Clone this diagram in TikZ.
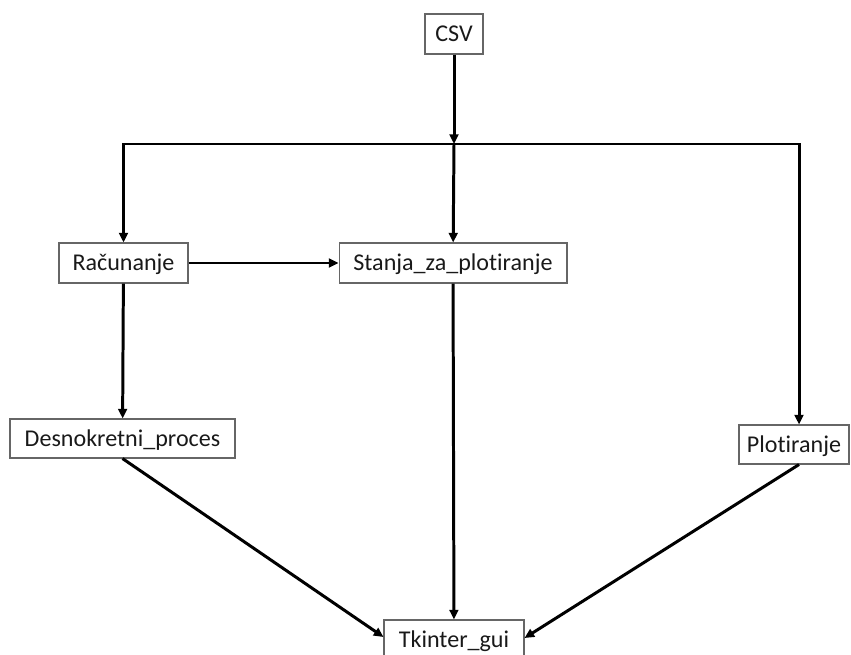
\documentclass[tikz,border=0pt]{standalone}
\usepackage{fontspec}
\setmainfont{Carlito}[Ligatures=NoCommon]
\usepackage{tikz}
\usetikzlibrary{arrows.meta}

\begin{document}
\begin{tikzpicture}[x=0.02cm,y=-0.02cm]
	\clip (0,0) rectangle (851,655);
	\begin{scope}[every node/.style={rectangle,draw=black!60,line width=0.6pt,
	              minimum height=0.8cm,inner sep=0pt,text height=12.5pt,text depth=3.5pt,
	              font=\fontsize{13.7}{16}\selectfont,text=black!90}]
		\node[minimum width=1.16cm] (csv) at (454,34) {CSV};
		\node[minimum width=2.58cm] (racun) at (123.5,263) {Računanje};
		\node[minimum width=4.56cm] (stanja) at (453,263) {Stanja\_za\_plotiranje};
		\node[minimum width=4.5cm,minimum height=0.78cm] (desno) at (122.5,438.5) {Desnokretni\_proces};
		\node[minimum width=2.2cm,minimum height=0.78cm] (plot) at (794,444.5) {Plotiranje};
		\node[minimum width=2.8cm] (tk) at (454,640) {Tkinter\_gui};
	\end{scope}

	\coordinate (busM) at (454,144);
	\coordinate (busR) at (799,144);

	\begin{scope}[>={Triangle[length=5.5pt,width=5pt]},
	              line width=1.7pt,
	              every edge/.style={draw=black,line width=1.7pt}]
		\path (csv) edge[->] (busM);
		\draw[->] (busM) -| (racun);
		\draw[->] (busM) -- (busR) -- (busR |- plot.north);
		\path (busM) edge[->] (stanja);
		\path (racun) edge[->] (stanja);
		\path (racun) edge[->] (desno);
		\path (stanja) edge[->] (tk);
		\path (desno.south) edge[->] ([yshift=0.06cm]tk.west);
		\path ([xshift=0.1cm]plot.south) edge[->] ([yshift=0.04cm]tk.east);
	\end{scope}
\end{tikzpicture}
\end{document}
